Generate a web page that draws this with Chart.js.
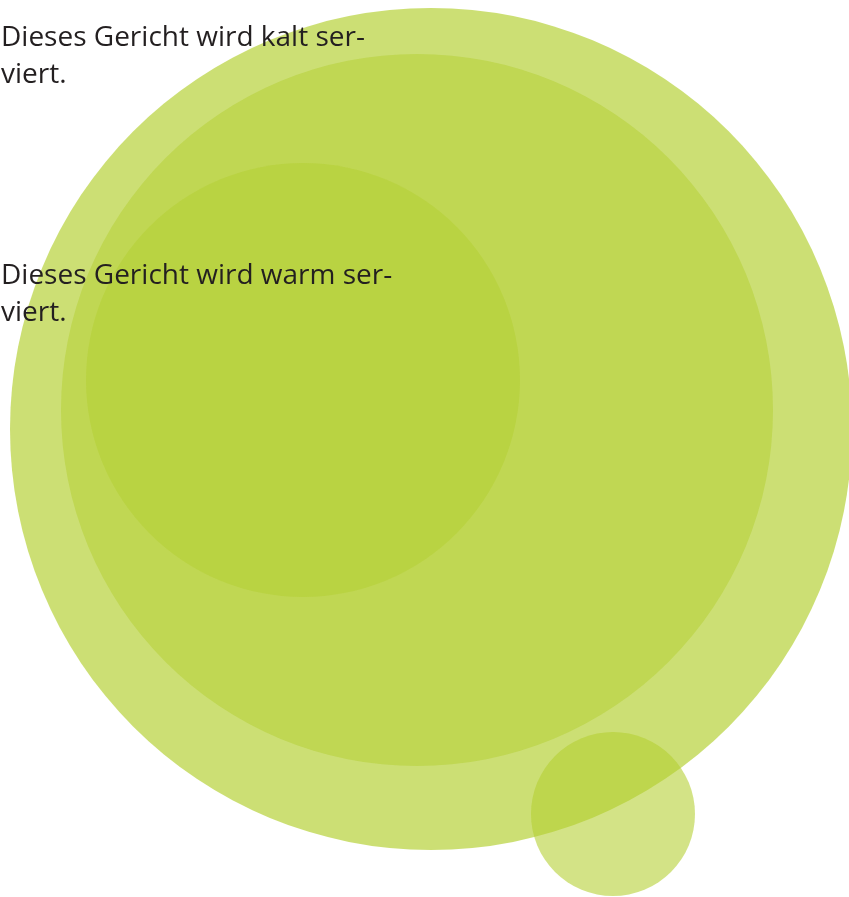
<!DOCTYPE html>
<html>
<head>
<meta charset="utf-8">
<script src="https://cdn.jsdelivr.net/npm/chart.js@4/dist/chart.umd.min.js"></script>
<style>
  html, body { margin: 0; padding: 0; background: #fff; }
  #wrap { position: relative; width: 849px; height: 897px; overflow: hidden; }
  .label {
    position: absolute; left: 1px; margin: 0;
    font-family: "Open Sans", sans-serif; font-size: 28px; line-height: 37px;
    color: #231f20; z-index: 2; white-space: pre;
  }
</style>
</head>
<body>
<div id="wrap">
  <canvas id="bubbleChart"></canvas>
  <p class="label" id="t1" style="top: 17px;"></p>
  <p class="label" id="t2" style="top: 255px;"></p>
</div>
<script>
// bubble data (x / y in chart units, r in pixels)
const xValues = [431, 417, 303, 613];
const yValues = [429, 410, 380, 814];
const radii = [421, 356, 217, 82];
const alphas = [0.68, 0.5, 0.5, 0.59];
const labels = ['Dieses Gericht wird kalt ser-\nviert.', 'Dieses Gericht wird warm ser-\nviert.'];

document.getElementById('t1').textContent = labels[0];
document.getElementById('t2').textContent = labels[1];

const points = xValues.map((x, i) => ({ x: x, y: yValues[i], r: radii[i] }));
const fills = alphas.map(a => 'rgba(180, 208, 50, ' + a + ')');

const ctx = document.getElementById('bubbleChart');
new Chart(ctx, {
  type: 'bubble',
  data: {
    datasets: [{
      data: points,
      backgroundColor: fills,
      borderWidth: 0,
      hoverRadius: 0,
      clip: false
    }]
  },
  options: {
    responsive: true,
    maintainAspectRatio: false,
    animation: false,
    events: [],
    layout: { padding: 0, autoPadding: false },
    plugins: {
      legend: { display: false },
      tooltip: { enabled: false }
    },
    scales: {
      x: { type: 'linear', min: 0, max: 849, display: false },
      y: { type: 'linear', min: 0, max: 897, reverse: true, display: false }
    }
  }
});
</script>
</body>
</html>
